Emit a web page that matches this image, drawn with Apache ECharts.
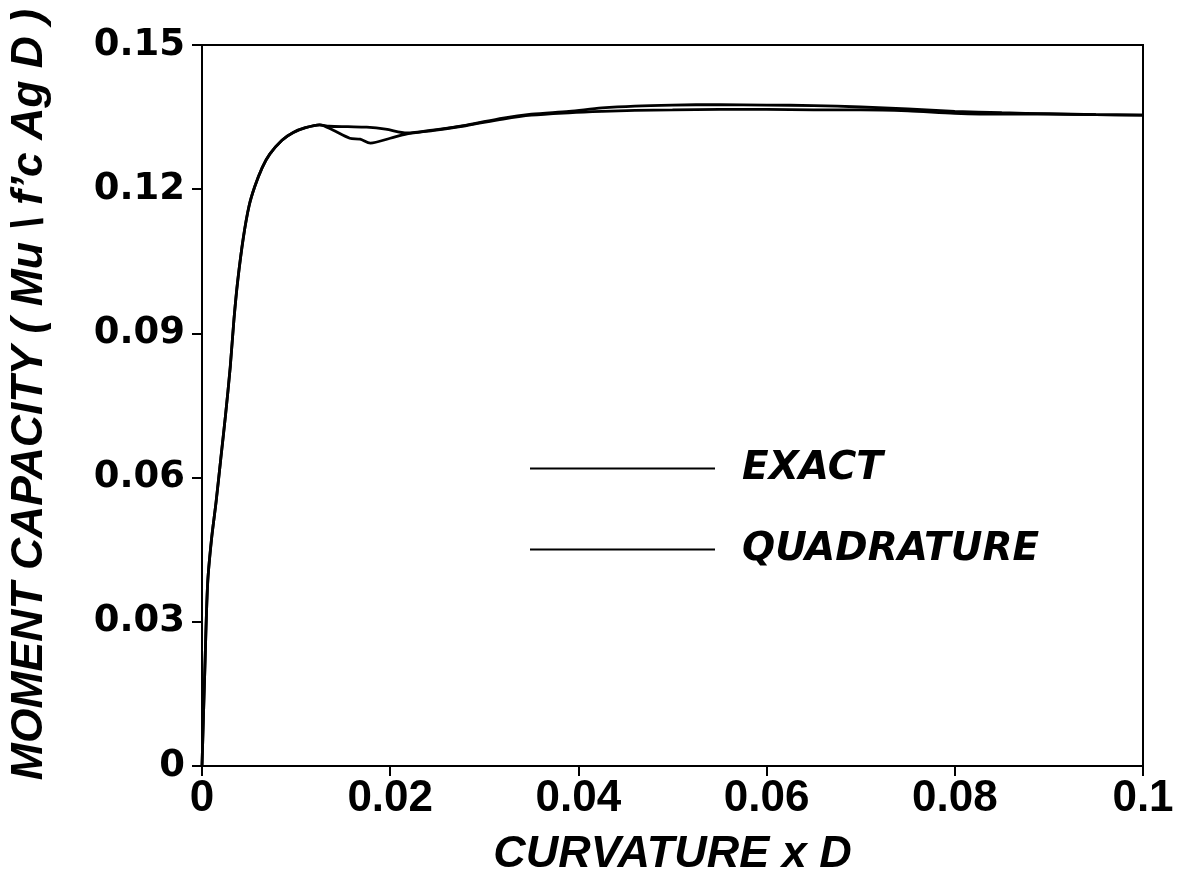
<!DOCTYPE html>
<html>
<head>
<meta charset="utf-8">
<script src="https://cdn.jsdelivr.net/npm/echarts@6/dist/echarts.min.js"></script>
<style>
html,body{margin:0;padding:0;background:#fff;}
#chart{width:1180px;height:879px;}
</style>
</head>
<body>
<div id="chart"></div>
<script>
// Data
const exactX = [0, 0.0003, 0.0006, 0.0010, 0.0015, 0.0020, 0.0025, 0.0030, 0.0034, 0.0038, 0.0044, 0.0050, 0.0056, 0.0064, 0.0072, 0.0085, 0.0097, 0.0110, 0.0125, 0.0135, 0.0155, 0.0175, 0.0195, 0.0218, 0.0245, 0.028, 0.032, 0.035, 0.039, 0.0425, 0.046, 0.050, 0.055, 0.060, 0.065, 0.070, 0.075, 0.080, 0.085, 0.090, 0.095, 0.100];
const exactY = [0, 0.020, 0.038, 0.047, 0.055, 0.064, 0.073, 0.083, 0.093, 0.101, 0.110, 0.1165, 0.1205, 0.1245, 0.1273, 0.1302, 0.1318, 0.1328, 0.1334, 0.1331, 0.1330, 0.1329, 0.1325, 0.1317, 0.1323, 0.1333, 0.1348, 0.1356, 0.1362, 0.1369, 0.1373, 0.1375, 0.1376, 0.1375, 0.1374, 0.1371, 0.1367, 0.1362, 0.1359, 0.1357, 0.1355, 0.1354];
const quadX = [0, 0.0003, 0.0006, 0.0010, 0.0015, 0.0020, 0.0025, 0.0030, 0.0034, 0.0038, 0.0044, 0.0050, 0.0056, 0.0064, 0.0072, 0.0085, 0.0097, 0.0110, 0.0125, 0.0139, 0.0157, 0.0168, 0.0179, 0.0200, 0.0218, 0.0245, 0.028, 0.032, 0.035, 0.039, 0.0425, 0.046, 0.050, 0.055, 0.060, 0.065, 0.070, 0.075, 0.080, 0.085, 0.090, 0.095, 0.100];
const quadY = [0, 0.020, 0.038, 0.047, 0.055, 0.064, 0.073, 0.083, 0.093, 0.101, 0.110, 0.1165, 0.1205, 0.1245, 0.1273, 0.1302, 0.1318, 0.1328, 0.1334, 0.1323, 0.1306, 0.1304, 0.1296, 0.1306, 0.1315, 0.1322, 0.1332, 0.1346, 0.1354, 0.1359, 0.1362, 0.1364, 0.1365, 0.1366, 0.1366, 0.1365, 0.1365, 0.1363, 0.1358, 0.1356, 0.1356, 0.1355, 0.1354];
const seriesNames = ['EXACT', 'QUADRATURE'];
const xTitle = 'CURVATURE x D';
const yTitle = 'MOMENT CAPACITY ( Mu \\ f\u2019c Ag D )';

const zip = (xs, ys) => xs.map((x, i) => [x, ys[i]]);
const FONT = 'Liberation Sans, Arial, Helvetica, sans-serif';
const WIDE = 'DejaVu Sans, Verdana, sans-serif';

const chart = echarts.init(document.getElementById('chart'), null, {renderer: 'canvas'});
const legendText = {fontSize: 39, fontWeight: 'bold', fontStyle: 'italic', fontFamily: WIDE, color: '#000', padding: [0, 0, 0, 22]};
chart.setOption({
  backgroundColor: '#fff',
  animation: false,
  grid: {left: 202, right: 37, top: 45, bottom: 113, show: true, borderColor: '#000', borderWidth: 2, backgroundColor: 'transparent', containLabel: false, outerBoundsMode: 'none'},
  legend: [
    {data: [{name: seriesNames[0]}], left: 530, top: 449, padding: 0, orient: 'vertical', icon: 'rect', itemWidth: 185, itemHeight: 2, textStyle: legendText},
    {data: [{name: seriesNames[1]}], left: 530, top: 530, padding: 0, orient: 'vertical', icon: 'rect', itemWidth: 185, itemHeight: 2, textStyle: legendText}
  ],
  xAxis: {
    type: 'value', min: 0, max: 0.1, interval: 0.02,
    name: xTitle, nameLocation: 'middle', nameGap: 66,
    nameTextStyle: {fontSize: 45, fontWeight: 'bold', fontStyle: 'italic', fontFamily: FONT, color: '#000'},
    axisLine: {show: true, lineStyle: {color: '#000', width: 2}},
    axisTick: {show: true, inside: false, length: 10, lineStyle: {color: '#000', width: 2}},
    axisLabel: {fontSize: 44, fontWeight: 'bold', fontFamily: FONT, color: '#000', margin: 11},
    splitLine: {show: false}
  },
  yAxis: {
    type: 'value', min: 0, max: 0.15, interval: 0.03,
    name: yTitle, nameLocation: 'middle', nameGap: 150, nameRotate: 90,
    nameTextStyle: {fontSize: 44.5, fontWeight: 'bold', fontStyle: 'italic', fontFamily: FONT, color: '#000', padding: [0, 0, 0, 22]},
    axisLine: {show: true, lineStyle: {color: '#000', width: 2}},
    axisTick: {show: true, inside: false, length: 10, lineStyle: {color: '#000', width: 2}},
    axisLabel: {fontSize: 37, fontWeight: 'bold', fontFamily: WIDE, color: '#000', margin: 17},
    splitLine: {show: false}
  },
  series: [
    {name: seriesNames[0], type: 'line', data: zip(exactX, exactY), showSymbol: false, symbol: 'none', smooth: 0.3,
     lineStyle: {color: '#000', width: 2.8}, itemStyle: {color: '#000'}},
    {name: seriesNames[1], type: 'line', data: zip(quadX, quadY), showSymbol: false, symbol: 'none', smooth: 0.3,
     lineStyle: {color: '#000', width: 2.8}, itemStyle: {color: '#000'}}
  ]
});
</script>
</body>
</html>
